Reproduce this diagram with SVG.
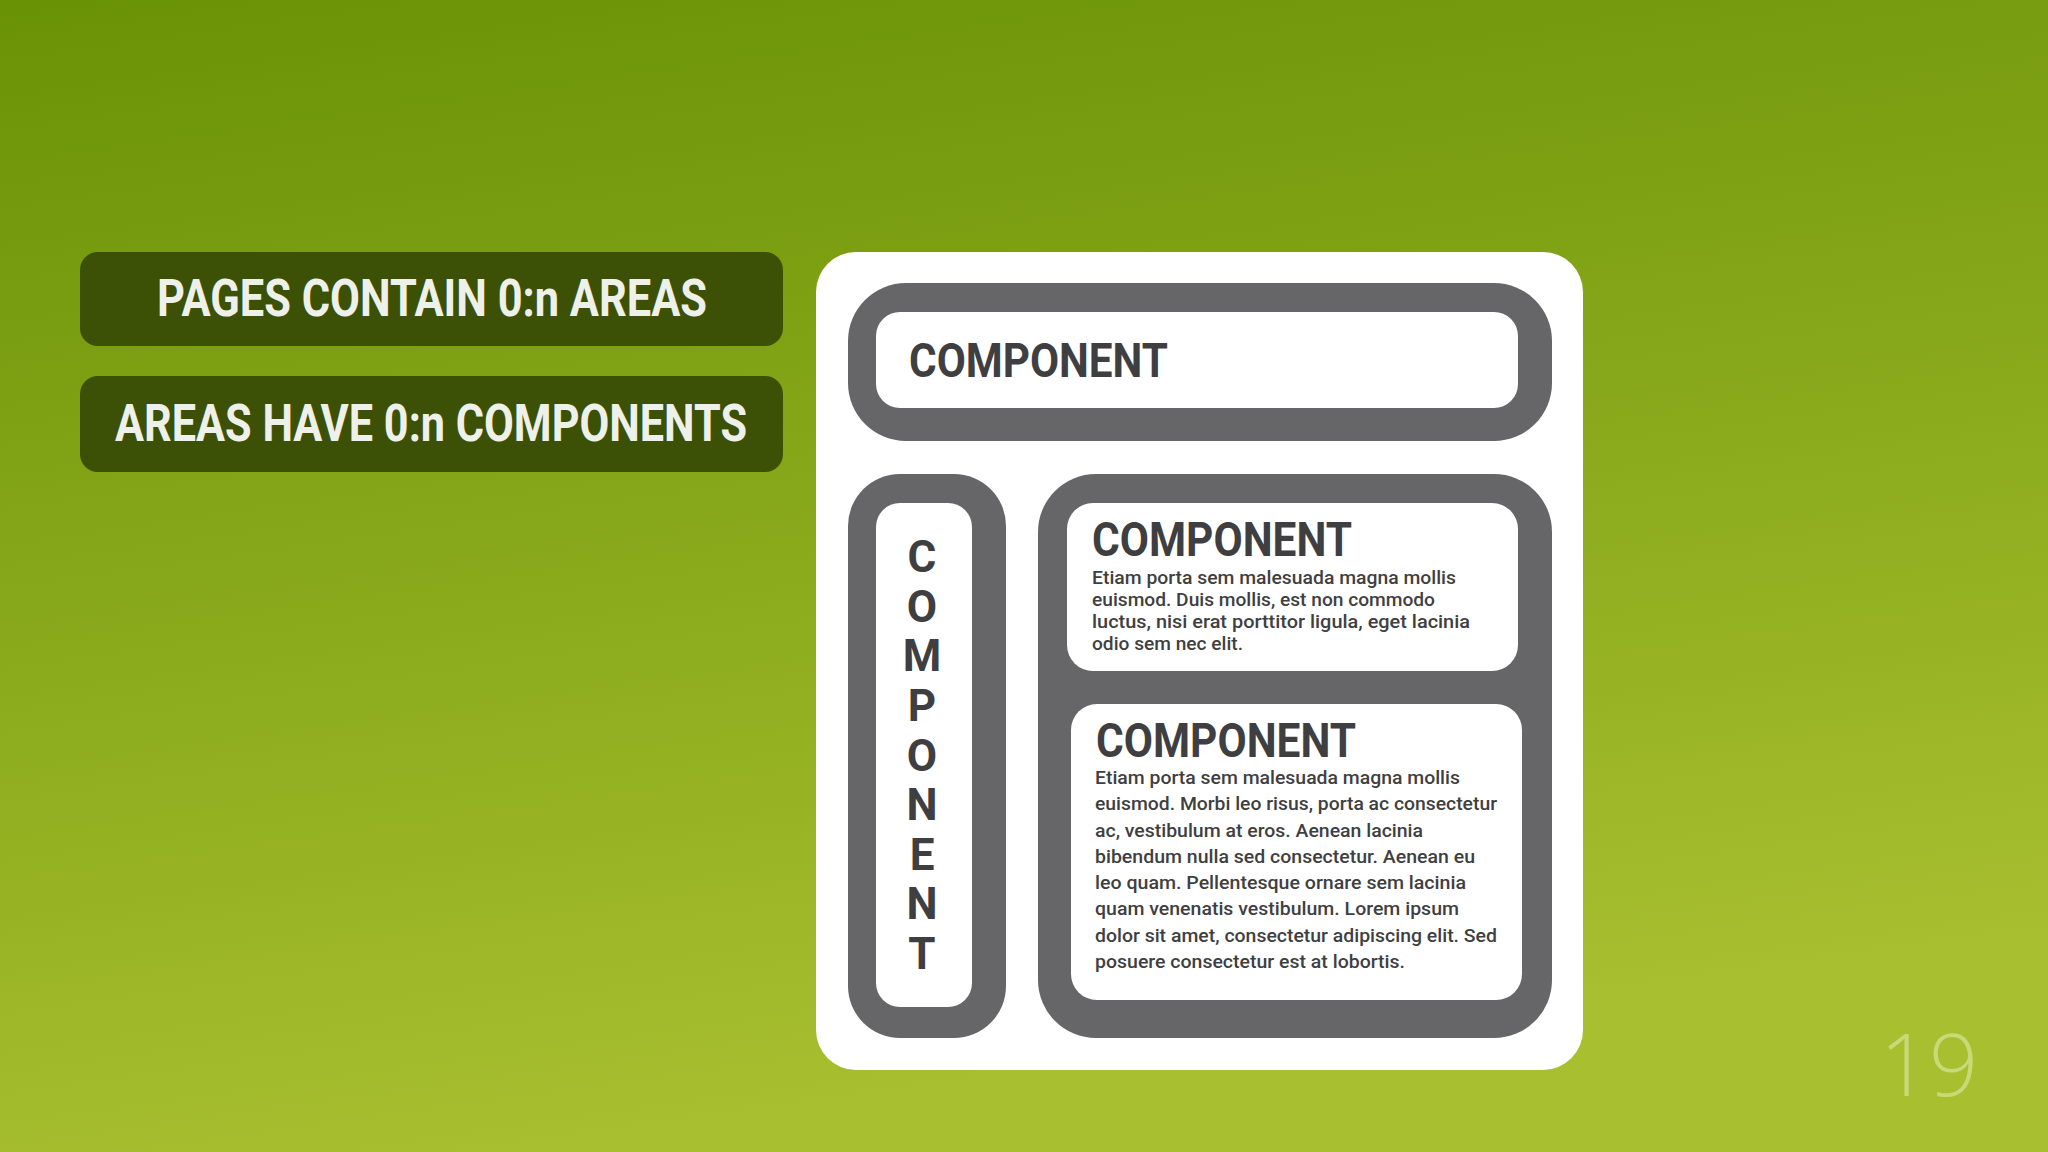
<svg xmlns="http://www.w3.org/2000/svg" width="2048" height="1152" viewBox="0 0 2048 1152">
  <defs>
    <linearGradient id="bg" x1="0" y1="0" x2="0.25" y2="1">
      <stop offset="0" stop-color="#6a9205"/>
      <stop offset="0.5" stop-color="#87a81a"/>
      <stop offset="1" stop-color="#a8bf2f"/>
    </linearGradient>
  </defs>
  <style>
    .lbl { fill: #3c5006; }
    .lbltxt { font-family: Roboto, "Liberation Sans", sans-serif; font-weight: 700; font-size: 52px; fill: #eef0ea; text-anchor: middle; }
    .area { fill: #666668; }
    .comp { fill: #ffffff; }
    .title { font-family: Roboto, "Liberation Sans", sans-serif; font-weight: 700; font-size: 48px; fill: #3f3f42; }
    .vert { font-family: Roboto, "Liberation Sans", sans-serif; font-weight: 700; font-size: 44px; fill: #3f3f42; text-anchor: middle; }
    .body { font-family: Roboto, "Liberation Sans", sans-serif; font-weight: 500; font-size: 19px; fill: #3f3f42; }
    .pnum { font-family: "Open Sans", Lato, sans-serif; font-weight: 300; font-size: 86px; fill: #cfe08a; fill-opacity: 0.8; }
  </style>
  <rect x="0" y="0" width="2048" height="1152" fill="url(#bg)"/>

  <g id="label-pages">
    <rect class="lbl" x="80" y="252" width="703" height="94" rx="18"/>
    <text class="lbltxt" x="432" y="316" textLength="550" lengthAdjust="spacingAndGlyphs">PAGES CONTAIN 0:n AREAS</text>
  </g>
  <g id="label-areas">
    <rect class="lbl" x="80" y="376" width="703" height="96" rx="18"/>
    <text class="lbltxt" x="431" y="441" textLength="632" lengthAdjust="spacingAndGlyphs">AREAS HAVE 0:n COMPONENTS</text>
  </g>

  <g id="page">
    <rect x="816" y="252" width="767" height="818" rx="40" fill="#ffffff"/>
  </g>

  <g id="area-top">
    <rect class="area" x="848" y="283" width="704" height="158" rx="58"/>
    <g id="component-top">
      <rect class="comp" x="876" y="312" width="642" height="96" rx="24"/>
      <text class="title" x="909" y="377" textLength="259" lengthAdjust="spacingAndGlyphs">COMPONENT</text>
    </g>
  </g>

  <g id="area-left">
    <rect class="area" x="848" y="474" width="158" height="564" rx="52"/>
    <g id="component-left">
      <rect class="comp" x="876" y="503" width="96" height="504" rx="24"/>
      <text class="vert" x="922" y="572">C</text>
      <text class="vert" x="922" y="622">O</text>
      <text class="vert" x="922" y="671">M</text>
      <text class="vert" x="922" y="721">P</text>
      <text class="vert" x="922" y="771">O</text>
      <text class="vert" x="922" y="820">N</text>
      <text class="vert" x="922" y="870">E</text>
      <text class="vert" x="922" y="919">N</text>
      <text class="vert" x="922" y="969">T</text>
    </g>
  </g>

  <g id="area-right">
    <rect class="area" x="1038" y="474" width="514" height="564" rx="58"/>
    <g id="component-right-1">
      <rect class="comp" x="1067" y="503" width="451" height="168" rx="26"/>
      <text class="title" x="1092" y="556" textLength="260" lengthAdjust="spacingAndGlyphs">COMPONENT</text>
      <text class="body" x="1092" y="584" textLength="364" lengthAdjust="spacingAndGlyphs">Etiam porta sem malesuada magna mollis</text>
      <text class="body" x="1092" y="606" textLength="343" lengthAdjust="spacingAndGlyphs">euismod. Duis mollis, est non commodo</text>
      <text class="body" x="1092" y="628" textLength="378" lengthAdjust="spacingAndGlyphs">luctus, nisi erat porttitor ligula, eget lacinia</text>
      <text class="body" x="1092" y="650" textLength="151" lengthAdjust="spacingAndGlyphs">odio sem nec elit.</text>
    </g>
    <g id="component-right-2">
      <rect class="comp" x="1071" y="704" width="451" height="296" rx="26"/>
      <text class="title" x="1096" y="757" textLength="260" lengthAdjust="spacingAndGlyphs">COMPONENT</text>
      <text class="body" x="1095" y="784" textLength="365" lengthAdjust="spacingAndGlyphs">Etiam porta sem malesuada magna mollis</text>
      <text class="body" x="1095" y="810" textLength="402" lengthAdjust="spacingAndGlyphs">euismod. Morbi leo risus, porta ac consectetur</text>
      <text class="body" x="1095" y="837" textLength="328" lengthAdjust="spacingAndGlyphs">ac, vestibulum at eros. Aenean lacinia</text>
      <text class="body" x="1095" y="863" textLength="380" lengthAdjust="spacingAndGlyphs">bibendum nulla sed consectetur. Aenean eu</text>
      <text class="body" x="1095" y="889" textLength="371" lengthAdjust="spacingAndGlyphs">leo quam. Pellentesque ornare sem lacinia</text>
      <text class="body" x="1095" y="915" textLength="364" lengthAdjust="spacingAndGlyphs">quam venenatis vestibulum. Lorem ipsum</text>
      <text class="body" x="1095" y="942" textLength="402" lengthAdjust="spacingAndGlyphs">dolor sit amet, consectetur adipiscing elit. Sed</text>
      <text class="body" x="1095" y="968" textLength="310" lengthAdjust="spacingAndGlyphs">posuere consectetur est at lobortis.</text>
    </g>
  </g>

  <g id="connectors"></g>

  <text class="pnum" x="1880" y="1096">19</text>
</svg>
